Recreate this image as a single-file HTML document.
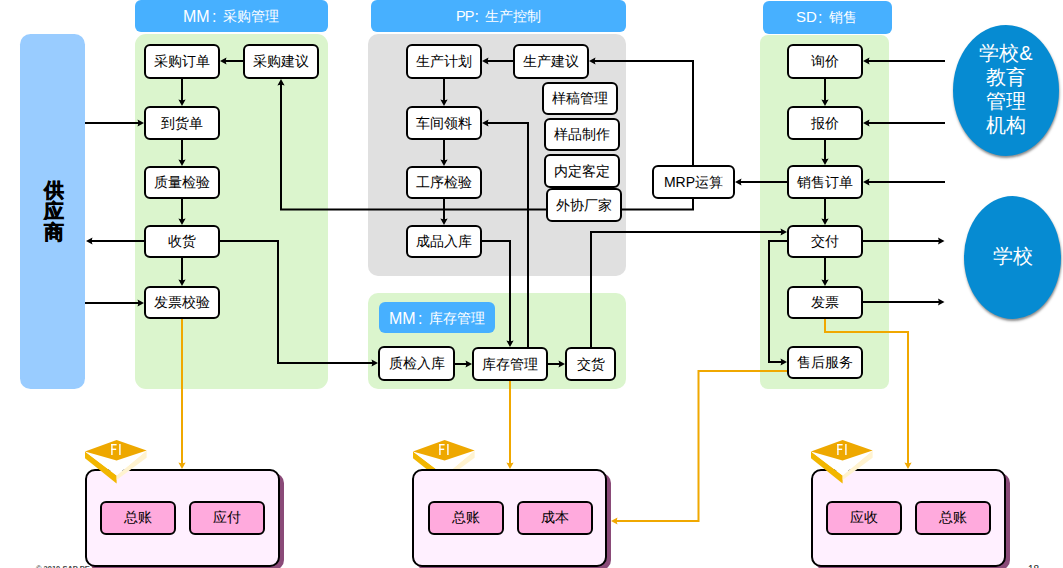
<!DOCTYPE html><html><head><meta charset="utf-8"><style>
html,body{margin:0;padding:0;background:#fff;width:1063px;height:568px;overflow:hidden}
body{position:relative;font-family:"Liberation Sans",sans-serif}
.b{position:absolute;box-sizing:border-box;border-style:solid;border-color:#000;text-align:center;color:#000;white-space:nowrap;z-index:2}
.l{position:absolute;text-align:center;white-space:nowrap}
.t{position:absolute;white-space:nowrap;line-height:16px;z-index:3}
.e{position:absolute;border-radius:50%;background:#068BD2;color:#fff;text-align:center;box-shadow:0.5px 2px 2.5px rgba(0,0,0,.45)}
svg{z-index:1}
</style></head><body>
<div style="position:absolute;left:20px;top:34px;width:65px;height:354.5px;background:#99CCFF;border-radius:10.5px;"></div><div class="l" style="left:135px;top:0px;width:193px;height:32px;background:#47B0FF;border-radius:6px;"></div><div class="t" style="left:183px;top:9px;font-size:16px;letter-spacing:0px;color:#fff">MM</div><div class="t" style="left:212px;top:9px;font-size:16px;color:#fff">:</div><div class="t" style="left:223px;top:8px;font-size:14px;color:#fff">采购管理</div><div style="position:absolute;left:135px;top:34px;width:193px;height:355px;background:#DBF5CD;border-radius:11px;"></div><div class="l" style="left:371px;top:0px;width:255px;height:32px;background:#47B0FF;border-radius:6px;"></div><div class="t" style="left:456px;top:8px;font-size:14.5px;letter-spacing:-1px;color:#fff">PP</div><div class="t" style="left:474.5px;top:9px;font-size:16px;color:#fff">:</div><div class="t" style="left:485px;top:8px;font-size:14px;color:#fff">生产控制</div><div style="position:absolute;left:368px;top:34px;width:258px;height:242px;background:#E0E0E0;border-radius:10px;"></div><div style="position:absolute;left:368px;top:293px;width:258px;height:96px;background:#DBF5CD;border-radius:10px;"></div><div class="l" style="left:379px;top:302px;width:116px;height:31px;background:#47B0FF;border-radius:6px;"></div><div class="t" style="left:389px;top:311px;font-size:16px;letter-spacing:0px;color:#fff">MM</div><div class="t" style="left:418px;top:311px;font-size:16px;color:#fff">:</div><div class="t" style="left:429px;top:310px;font-size:14px;color:#fff">库存管理</div><div class="l" style="left:763px;top:1px;width:129px;height:33px;background:#47B0FF;border-radius:6px;"></div><div class="t" style="left:796px;top:9px;font-size:15px;letter-spacing:0px;color:#fff">SD</div><div class="t" style="left:818px;top:10px;font-size:16px;color:#fff">:</div><div class="t" style="left:829px;top:9px;font-size:14px;color:#fff">销售</div><div style="position:absolute;left:760px;top:34.5px;width:129px;height:354.5px;background:#DBF5CD;border-radius:8px;"></div><div style="position:absolute;left:36px;top:565px;font-size:7.5px;line-height:8px;color:#444;font-weight:bold;white-space:nowrap;z-index:1">&copy; 2010 SAP PE si</div><div style="position:absolute;left:1028px;top:564px;font-size:10px;line-height:11px;color:#222;white-space:nowrap">18</div><div style="position:absolute;left:20px;top:180px;width:67px;text-align:center;font-size:20px;font-weight:bold;line-height:21.2px;-webkit-text-stroke:0.6px #000;color:#000">供<br>应<br>商</div><svg style="position:absolute;left:0;top:0" width="1063" height="568" viewBox="0 0 1063 568"><path d="M182,79 L182,101" fill="none" stroke="#000" stroke-width="2"/><polygon points="182,106 178.4,99.5 182,100.5 185.6,99.5" fill="#000"/><path d="M243,61 L225,61" fill="none" stroke="#000" stroke-width="2"/><polygon points="220,61 226.5,57.4 225.5,61 226.5,64.6" fill="#000"/><path d="M182,140 L182,161" fill="none" stroke="#000" stroke-width="2"/><polygon points="182,166 178.4,159.5 182,160.5 185.6,159.5" fill="#000"/><path d="M182,199 L182,220" fill="none" stroke="#000" stroke-width="2"/><polygon points="182,225 178.4,218.5 182,219.5 185.6,218.5" fill="#000"/><path d="M182,258 L182,281" fill="none" stroke="#000" stroke-width="2"/><polygon points="182,286 178.4,279.5 182,280.5 185.6,279.5" fill="#000"/><path d="M85,123 L139,123" fill="none" stroke="#000" stroke-width="2"/><polygon points="144,123 137.5,119.4 138.5,123 137.5,126.6" fill="#000"/><path d="M144,241 L91,241" fill="none" stroke="#000" stroke-width="2"/><polygon points="86,241 92.5,237.4 91.5,241 92.5,244.6" fill="#000"/><path d="M85,303 L139,303" fill="none" stroke="#000" stroke-width="2"/><polygon points="144,303 137.5,299.4 138.5,303 137.5,306.6" fill="#000"/><path d="M281,84 L281,209.5 L546,209.5" fill="none" stroke="#000" stroke-width="2"/><polygon points="281,79 277.4,85.5 281,84.5 284.6,85.5" fill="#000"/><path d="M622,209.5 L693,209.5 L693,199" fill="none" stroke="#000" stroke-width="2"/><path d="M220,241 L278,241 L278,363 L373,363" fill="none" stroke="#000" stroke-width="2"/><polygon points="378,363 371.5,359.4 372.5,363 371.5,366.6" fill="#000"/><path d="M444,79 L444,101" fill="none" stroke="#000" stroke-width="2"/><polygon points="444,106 440.4,99.5 444,100.5 447.6,99.5" fill="#000"/><path d="M513,61 L487,61" fill="none" stroke="#000" stroke-width="2"/><polygon points="482,61 488.5,57.4 487.5,61 488.5,64.6" fill="#000"/><path d="M444,140 L444,161" fill="none" stroke="#000" stroke-width="2"/><polygon points="444,166 440.4,159.5 444,160.5 447.6,159.5" fill="#000"/><path d="M444,199 L444,220" fill="none" stroke="#000" stroke-width="2"/><polygon points="444,225 440.4,218.5 444,219.5 447.6,218.5" fill="#000"/><path d="M693,165 L693,61 L594,61" fill="none" stroke="#000" stroke-width="2"/><polygon points="589,61 595.5,57.4 594.5,61 595.5,64.6" fill="#000"/><path d="M528,347 L528,123 L487,123" fill="none" stroke="#000" stroke-width="2"/><polygon points="482,123 488.5,119.4 487.5,123 488.5,126.6" fill="#000"/><path d="M482,241 L510,241 L510,342" fill="none" stroke="#000" stroke-width="2"/><polygon points="510,347 506.4,340.5 510,341.5 513.6,340.5" fill="#000"/><path d="M455,364 L467,364" fill="none" stroke="#000" stroke-width="2"/><polygon points="472,364 465.5,360.4 466.5,364 465.5,367.6" fill="#000"/><path d="M548,364 L560,364" fill="none" stroke="#000" stroke-width="2"/><polygon points="565,364 558.5,360.4 559.5,364 558.5,367.6" fill="#000"/><path d="M591,347 L591,232 L782,232" fill="none" stroke="#000" stroke-width="2"/><polygon points="787,232 780.5,228.4 781.5,232 780.5,235.6" fill="#000"/><path d="M787,182 L740,182" fill="none" stroke="#000" stroke-width="2"/><polygon points="735,182 741.5,178.4 740.5,182 741.5,185.6" fill="#000"/><path d="M825,79 L825,101" fill="none" stroke="#000" stroke-width="2"/><polygon points="825,106 821.4,99.5 825,100.5 828.6,99.5" fill="#000"/><path d="M825,140 L825,160" fill="none" stroke="#000" stroke-width="2"/><polygon points="825,165 821.4,158.5 825,159.5 828.6,158.5" fill="#000"/><path d="M825,199 L825,220" fill="none" stroke="#000" stroke-width="2"/><polygon points="825,225 821.4,218.5 825,219.5 828.6,218.5" fill="#000"/><path d="M825,258 L825,281" fill="none" stroke="#000" stroke-width="2"/><polygon points="825,286 821.4,279.5 825,280.5 828.6,279.5" fill="#000"/><path d="M945,61 L868,61" fill="none" stroke="#000" stroke-width="2"/><polygon points="863,61 869.5,57.4 868.5,61 869.5,64.6" fill="#000"/><path d="M945,123 L868,123" fill="none" stroke="#000" stroke-width="2"/><polygon points="863,123 869.5,119.4 868.5,123 869.5,126.6" fill="#000"/><path d="M945,182 L868,182" fill="none" stroke="#000" stroke-width="2"/><polygon points="863,182 869.5,178.4 868.5,182 869.5,185.6" fill="#000"/><path d="M863,241 L939,241" fill="none" stroke="#000" stroke-width="2"/><polygon points="944.5,241 938.0,237.4 939.0,241 938.0,244.6" fill="#000"/><path d="M863,302 L939,302" fill="none" stroke="#000" stroke-width="2"/><polygon points="944.5,302 938.0,298.4 939.0,302 938.0,305.6" fill="#000"/><path d="M787,241 L769,241 L769,362 L782,362" fill="none" stroke="#000" stroke-width="2"/><polygon points="787,362 780.5,358.4 781.5,362 780.5,365.6" fill="#000"/><path d="M182,319 L182,464" fill="none" stroke="#F0A800" stroke-width="2"/><polygon points="182,469 178.4,462.5 182,463.5 185.6,462.5" fill="#F0A800"/><path d="M510,381 L510,464" fill="none" stroke="#F0A800" stroke-width="2"/><polygon points="510,469 506.4,462.5 510,463.5 513.6,462.5" fill="#F0A800"/><path d="M825,319 L825,332 L908,332 L908,464" fill="none" stroke="#F0A800" stroke-width="2"/><polygon points="908,469 904.4,462.5 908,463.5 911.6,462.5" fill="#F0A800"/><path d="M787,371 L698.5,371 L698.5,521 L616,521" fill="none" stroke="#F0A800" stroke-width="2"/><polygon points="611,521 617.5,517.4 616.5,521 617.5,524.6" fill="#F0A800"/></svg><div class="b" style="left:144px;top:44px;width:76px;height:35px;background:#fff;border-radius:6px;border-width:2px;font-size:14px;line-height:35px;"><span style="position:relative;top:-2px;">采购订单</span></div><div class="b" style="left:243px;top:44px;width:76px;height:35px;background:#fff;border-radius:6px;border-width:2px;font-size:14px;line-height:35px;"><span style="position:relative;top:-2px;">采购建议</span></div><div class="b" style="left:144px;top:106px;width:76px;height:34px;background:#fff;border-radius:6px;border-width:2px;font-size:14px;line-height:34px;"><span style="position:relative;top:-2px;">到货单</span></div><div class="b" style="left:144px;top:166px;width:76px;height:33px;background:#fff;border-radius:6px;border-width:2px;font-size:14px;line-height:33px;"><span style="position:relative;top:-2px;">质量检验</span></div><div class="b" style="left:144px;top:225px;width:76px;height:33px;background:#fff;border-radius:6px;border-width:2px;font-size:14px;line-height:33px;"><span style="position:relative;top:-2px;">收货</span></div><div class="b" style="left:144px;top:286px;width:76px;height:33px;background:#fff;border-radius:6px;border-width:2px;font-size:14px;line-height:33px;"><span style="position:relative;top:-2px;">发票校验</span></div><div class="b" style="left:406px;top:44px;width:76px;height:35px;background:#fff;border-radius:6px;border-width:2px;font-size:14px;line-height:35px;"><span style="position:relative;top:-2px;">生产计划</span></div><div class="b" style="left:513px;top:44px;width:76px;height:35px;background:#fff;border-radius:6px;border-width:2px;font-size:14px;line-height:35px;"><span style="position:relative;top:-2px;">生产建议</span></div><div class="b" style="left:406px;top:106px;width:76px;height:34px;background:#fff;border-radius:6px;border-width:2px;font-size:14px;line-height:34px;"><span style="position:relative;top:-2px;">车间领料</span></div><div class="b" style="left:406px;top:166px;width:76px;height:33px;background:#fff;border-radius:6px;border-width:2px;font-size:14px;line-height:33px;"><span style="position:relative;top:-2px;">工序检验</span></div><div class="b" style="left:406px;top:225px;width:76px;height:33px;background:#fff;border-radius:6px;border-width:2px;font-size:14px;line-height:33px;"><span style="position:relative;top:-2px;">成品入库</span></div><div class="b" style="left:542px;top:82px;width:76px;height:33px;background:#fff;border-radius:6px;border-width:2px;font-size:14px;line-height:33px;"><span style="position:relative;top:-2px;">样稿管理</span></div><div class="b" style="left:544px;top:118px;width:76px;height:33px;background:#fff;border-radius:6px;border-width:2px;font-size:14px;line-height:33px;"><span style="position:relative;top:-2px;">样品制作</span></div><div class="b" style="left:544px;top:154px;width:76px;height:34px;background:#fff;border-radius:6px;border-width:2px;font-size:14px;line-height:34px;"><span style="position:relative;top:-2px;">内定客定</span></div><div class="b" style="left:546px;top:188px;width:76px;height:34px;background:#fff;border-radius:6px;border-width:2px;font-size:14px;line-height:34px;"><span style="position:relative;top:-2px;">外协厂家</span></div><div class="b" style="left:652px;top:165px;width:83px;height:34px;background:#fff;border-radius:6px;border-width:2px;font-size:14px;line-height:34px;"><span style="position:relative;top:-2px;">MRP运算</span></div><div class="b" style="left:787px;top:44px;width:76px;height:35px;background:#fff;border-radius:6px;border-width:2px;font-size:14px;line-height:35px;"><span style="position:relative;top:-2px;">询价</span></div><div class="b" style="left:787px;top:106px;width:76px;height:34px;background:#fff;border-radius:6px;border-width:2px;font-size:14px;line-height:34px;"><span style="position:relative;top:-2px;">报价</span></div><div class="b" style="left:787px;top:165px;width:76px;height:34px;background:#fff;border-radius:6px;border-width:2px;font-size:14px;line-height:34px;"><span style="position:relative;top:-2px;">销售订单</span></div><div class="b" style="left:787px;top:225px;width:76px;height:33px;background:#fff;border-radius:6px;border-width:2px;font-size:14px;line-height:33px;"><span style="position:relative;top:-2px;">交付</span></div><div class="b" style="left:787px;top:286px;width:76px;height:33px;background:#fff;border-radius:6px;border-width:2px;font-size:14px;line-height:33px;"><span style="position:relative;top:-2px;">发票</span></div><div class="b" style="left:787px;top:346px;width:76px;height:33px;background:#fff;border-radius:6px;border-width:2px;font-size:14px;line-height:33px;"><span style="position:relative;top:-2px;">售后服务</span></div><div class="b" style="left:378px;top:346px;width:77px;height:35px;background:#fff;border-radius:6px;border-width:2px;font-size:14px;line-height:35px;"><span style="position:relative;top:-2px;">质检入库</span></div><div class="b" style="left:472px;top:347px;width:76px;height:34px;background:#fff;border-radius:6px;border-width:2px;font-size:14px;line-height:34px;"><span style="position:relative;top:-2px;">库存管理</span></div><div class="b" style="left:565px;top:347px;width:51px;height:34px;background:#fff;border-radius:6px;border-width:2px;font-size:14px;line-height:34px;"><span style="position:relative;top:-2px;">交货</span></div><div class="e" style="left:953px;top:25px;width:106px;height:131px;font-size:20px;line-height:24px;padding-top:16px;box-sizing:border-box">学校&amp;<br>教育<br>管理<br>机构</div><div class="e" style="left:964px;top:196px;width:97px;height:123px;font-size:20px;line-height:121px">学校</div><div style="position:absolute;left:89px;top:473px;width:195px;height:97px;background:#8A4A78;border-radius:10px;z-index:2"></div><div class="b" style="left:85px;top:469px;width:195px;height:98px;background:#FFF0FF;border-radius:10px;border-width:2.5px"></div><div class="b" style="left:100px;top:501px;width:76px;height:33.5px;background:#FFAADD;border-radius:6px;border-width:2px;font-size:14px;line-height:33.5px;z-index:3"><span style="position:relative;top:-2px;">总账</span></div><div class="b" style="left:189px;top:501px;width:76px;height:33.5px;background:#FFAADD;border-radius:6px;border-width:2px;font-size:14px;line-height:33.5px;z-index:3"><span style="position:relative;top:-2px;">应付</span></div><svg style="position:absolute;left:83px;top:436px;z-index:4" width="70" height="52" viewBox="83 436 70 52"><polygon points="85,451.5 116.6,475.6 116.6,483.4 85,458.2" fill="#F2B600"/><polygon points="146.6,450.5 116.6,475.6 116.6,480 146.6,457.7" fill="#FFF3D0"/><polygon points="85,451.5 116.6,475.6 146.6,450.5 116.6,460.6" fill="#fff"/><polygon points="116.6,440 146.6,450.5 116.6,460.6 85,451.5" fill="#EEA800"/><rect x="111.19999999999999" y="444" width="1.4" height="11" fill="#fff"/><rect x="111.19999999999999" y="444" width="5.4" height="1.4" fill="#fff"/><rect x="111.19999999999999" y="448.6" width="5" height="1.4" fill="#fff"/><rect x="119.19999999999999" y="444" width="1.4" height="11" fill="#fff"/></svg><div style="position:absolute;left:416px;top:473px;width:195px;height:97px;background:#8A4A78;border-radius:10px;z-index:2"></div><div class="b" style="left:412px;top:469px;width:195px;height:98px;background:#FFF0FF;border-radius:10px;border-width:2.5px"></div><div class="b" style="left:427.5px;top:501px;width:76.0px;height:33.5px;background:#FFAADD;border-radius:6px;border-width:2px;font-size:14px;line-height:33.5px;z-index:3"><span style="position:relative;top:-2px;">总账</span></div><div class="b" style="left:517px;top:501px;width:76px;height:33.5px;background:#FFAADD;border-radius:6px;border-width:2px;font-size:14px;line-height:33.5px;z-index:3"><span style="position:relative;top:-2px;">成本</span></div><svg style="position:absolute;left:411px;top:436px;z-index:1" width="70" height="52" viewBox="411 436 70 52"><polygon points="413,451.5 444.6,475.6 444.6,483.4 413,458.2" fill="#F2B600"/><polygon points="474.6,450.5 444.6,475.6 444.6,480 474.6,457.7" fill="#FFF3D0"/><polygon points="413,451.5 444.6,475.6 474.6,450.5 444.6,460.6" fill="#fff"/><polygon points="444.6,440 474.6,450.5 444.6,460.6 413,451.5" fill="#EEA800"/><rect x="439.20000000000005" y="444" width="1.4" height="11" fill="#fff"/><rect x="439.20000000000005" y="444" width="5.4" height="1.4" fill="#fff"/><rect x="439.20000000000005" y="448.6" width="5" height="1.4" fill="#fff"/><rect x="447.20000000000005" y="444" width="1.4" height="11" fill="#fff"/></svg><div style="position:absolute;left:815px;top:473px;width:195px;height:97px;background:#8A4A78;border-radius:10px;z-index:2"></div><div class="b" style="left:811px;top:469px;width:195px;height:98px;background:#FFF0FF;border-radius:10px;border-width:2.5px"></div><div class="b" style="left:825.5px;top:501px;width:76.0px;height:33.5px;background:#FFAADD;border-radius:6px;border-width:2px;font-size:14px;line-height:33.5px;z-index:3"><span style="position:relative;top:-2px;">应收</span></div><div class="b" style="left:915px;top:501px;width:76px;height:33.5px;background:#FFAADD;border-radius:6px;border-width:2px;font-size:14px;line-height:33.5px;z-index:3"><span style="position:relative;top:-2px;">总账</span></div><svg style="position:absolute;left:809px;top:436px;z-index:4" width="70" height="52" viewBox="809 436 70 52"><polygon points="811,451.5 842.6,475.6 842.6,483.4 811,458.2" fill="#F2B600"/><polygon points="872.6,450.5 842.6,475.6 842.6,480 872.6,457.7" fill="#FFF3D0"/><polygon points="811,451.5 842.6,475.6 872.6,450.5 842.6,460.6" fill="#fff"/><polygon points="842.6,440 872.6,450.5 842.6,460.6 811,451.5" fill="#EEA800"/><rect x="837.2" y="444" width="1.4" height="11" fill="#fff"/><rect x="837.2" y="444" width="5.4" height="1.4" fill="#fff"/><rect x="837.2" y="448.6" width="5" height="1.4" fill="#fff"/><rect x="845.2" y="444" width="1.4" height="11" fill="#fff"/></svg>
</body></html>
